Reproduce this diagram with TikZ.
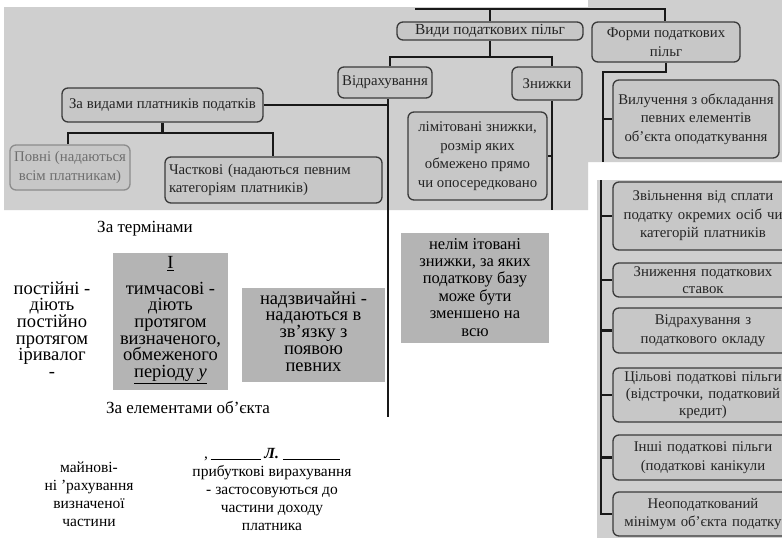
\documentclass[tikz,border=0pt]{standalone}
\usepackage{fontspec}
\setmainfont{Liberation Serif}
\definecolor{scanbg}{HTML}{CFCFCF}
\definecolor{scanbox}{HTML}{C7C7C7}
\definecolor{scanedge}{HTML}{3A3A3A}
\definecolor{scanink}{HTML}{242424}
\definecolor{edgefaint}{HTML}{8C8C8C}
\definecolor{inkfaint}{HTML}{6E6E6E}
\definecolor{flatgrey}{HTML}{B4B4B4}
\pgfdeclarelayer{scan}
\pgfdeclarelayer{wires}
\pgfsetlayers{scan,wires,main}
\tikzset{
  sbox/.style={draw=scanedge, fill=scanbox, line width=1.3pt, rounded corners=6pt,
    text=scanink, align=center, inner sep=1.5pt, font=\fontsize{14.8}{18.5}\selectfont},
  wire/.style={line width=2.4pt, draw=black!90},
  flat/.style={fill=flatgrey, inner sep=0pt},
  ptext/.style={align=center, font=\fontsize{15.5}{18}\selectfont, inner sep=0pt, text=black},
  wide/.style={font=\fontsize{18.5}{16.7}\selectfont},
  caption/.style={font=\fontsize{17}{20}\selectfont},
}
\begin{document}
\begin{tikzpicture}[x=1pt,y=-1pt]
\useasboundingbox (0,0) rectangle (782,538);

% photographed chart panels
\begin{pgfonlayer}{scan}
  \fill[white] (0,0) rectangle (782,538);
  \fill[scanbg] (4,7) -- (588,7) -- (588,0) -- (782,0) -- (782,162) -- (588,162)
    -- (588,210) -- (4,210) -- cycle;
  \fill[scanbg] (597,180) rectangle (782,538);
\end{pgfonlayer}

% upper chart: kinds of tax benefits
\node[sbox, minimum width=186, minimum height=18, font=\fontsize{15.4}{18.5}\selectfont] (vydy) at (490,31) {Види податкових пільг};
\node[sbox, minimum width=148, minimum height=40] (formy) at (666,42) {Форми податкових\\пільг};
\node[sbox, minimum width=94, minimum height=31] (vidr) at (385,82.5) {Відрахування};
\node[sbox, minimum width=70, minimum height=33] (znyzh) at (547,83.5) {Знижки};
\node[sbox, minimum width=201, minimum height=34] (zavyd) at (162.5,105) {За видами платників податків};
\node[sbox, draw=edgefaint, text=inkfaint, minimum width=120, minimum height=45] (povni) at (70,167.5) {Повні (надаються\\всім платникам)};
\node[sbox, align=left, text width=209, minimum width=217, minimum height=46] (chast) at (273.5,180) {Часткові (надаються певним\\категоріям платників)};
\node[sbox, minimum width=139, minimum height=88] (limit) at (477.5,156) {лімітовані знижки,\\розмір яких\\обмежено прямо\\чи опосередковано};
\node[sbox, minimum width=166, minimum height=78] (vyluch) at (696,119) {Вилучення з обкладання\\певних елементів\\об’єкта оподаткування};

% right column: forms of tax benefits
\tikzset{rbox/.style={sbox, minimum width=180, text width=168}}
\node[rbox, minimum height=68] (b1) at (703,216) {Звільнення від сплати\\податку окремих осіб чи\\категорій платників};
\node[rbox, minimum height=34, font=\fontsize{14.8}{16.5}\selectfont] (b2) at (703,280) {Зниження податкових\\ставок};
\node[rbox, minimum height=45] (b3) at (703,330.5) {Відрахування з\\податкового окладу};
\node[rbox, minimum height=54, font=\fontsize{14.8}{17.2}\selectfont] (b4) at (703,395) {Цільові податкові пільги\\(відстрочки, податковий\\кредит)};
\node[rbox, minimum height=45] (b5) at (703,457.5) {Інші податкові пільги\\(податкові канікули};
\node[rbox, minimum height=44] (b6) at (703,514) {Неоподаткований\\мінімум об’єкта податку};

% junction points
\coordinate (tl) at (415,9);
\coordinate (tr) at (665,9);
\coordinate (tm) at (490,9);
\coordinate (vj) at (490,57);
\coordinate (vjl) at (390,57);
\coordinate (vjr) at (552,57);
\coordinate (vbot) at (388,417);
\coordinate (zj) at (162.5,133);
\coordinate (zjl) at (68,133);
\coordinate (zjr) at (273,133);
\coordinate (zbot) at (552,210);
\coordinate (fk) at (603,72);
\coordinate (fbot) at (603,162);
\coordinate (ptop) at (601,180);
\coordinate (pbot) at (601,514);

\begin{pgfonlayer}{wires}
  \draw[wire] (tl) -- (tr) -- (tr |- formy.north);
  \draw[wire] (tm) -- (vydy.north);
  \draw[wire] (vydy.south) -- (vj);
  \draw[wire] (vidr.north -| vjl) -- (vjl) -- (vjr) -- (vjr |- znyzh.north);
  \draw[wire] (vidr.south -| vbot) -- (vbot);
  \draw[wire] (zavyd.east) -- (zavyd.east -| vbot);
  \draw[wire] (zavyd.south) -- (zj);
  \draw[wire] (povni.north -| zjl) -- (zjl) -- (zjr) -- (zjr |- chast.north);
  \draw[wire] (znyzh.south -| zbot) -- (zbot);
  \draw[wire] (limit.east) -- (limit.east -| zbot);
  \draw[wire] (formy.south) -- (formy.south |- fk) -- (fk) -- (fbot);
  \draw[wire] (vyluch.west -| fk) -- (vyluch.west);
  \draw[wire] (ptop) -- (pbot) -- (b6.west);
  \foreach \b in {b1,b2,b3,b4,b5}
    \draw[wire] (\b.west -| ptop) -- (\b.west);
\end{pgfonlayer}

% lower part: grey blocks and plain text (anchored at the last line's baseline)
\node[flat, anchor=north west, minimum width=115, minimum height=137] (tymch) at (113,253) {};
\node[flat, anchor=north west, minimum width=143, minimum height=94] (nadz) at (242,288) {};
\node[flat, anchor=north west, minimum width=148, minimum height=110] (nelim) at (401,233) {};

\node[ptext, caption, anchor=base] (termT) at (145,232) {За термінами};
\node[ptext, wide, anchor=base] (postT) at (52,377.5) {постійні -\\діють\\постійно\\протягом\\іривалог\\-};
\node[ptext, wide, anchor=base] (tymchT) at (170.5,377.5) {\underline{I}\\[9pt]тимчасові -\\діють\\протягом\\визначеного,\\обмеженого\\\underline{періоду \textit{у}}};
\node[ptext, wide, anchor=base] (nadzT) at (313.5,371) {надзвичайні -\\надаються в\\зв'язку з\\появою\\певних};
\node[ptext, anchor=base, font=\fontsize{16.5}{17.4}\selectfont] (nelimT) at (475,336) {нелім ітовані\\знижки, за яких\\податкову базу\\може бути\\зменшено на\\всю};
\node[ptext, caption, anchor=base] (elemT) at (188,413) {За елементами об’єкта};
\node[ptext, anchor=base] (mainT) at (89,526) {майнові-\\ні 'рахування\\визначеної\\частини};
\node[ptext, anchor=base] (prybT) at (272,530) {,\,\underline{\hspace{50pt}} \textbf{\textit{Л.}} \underline{\hspace{57pt}}\\прибуткові вирахування\\- застосовуються до\\частини доходу\\платника};
\end{tikzpicture}
\end{document}
